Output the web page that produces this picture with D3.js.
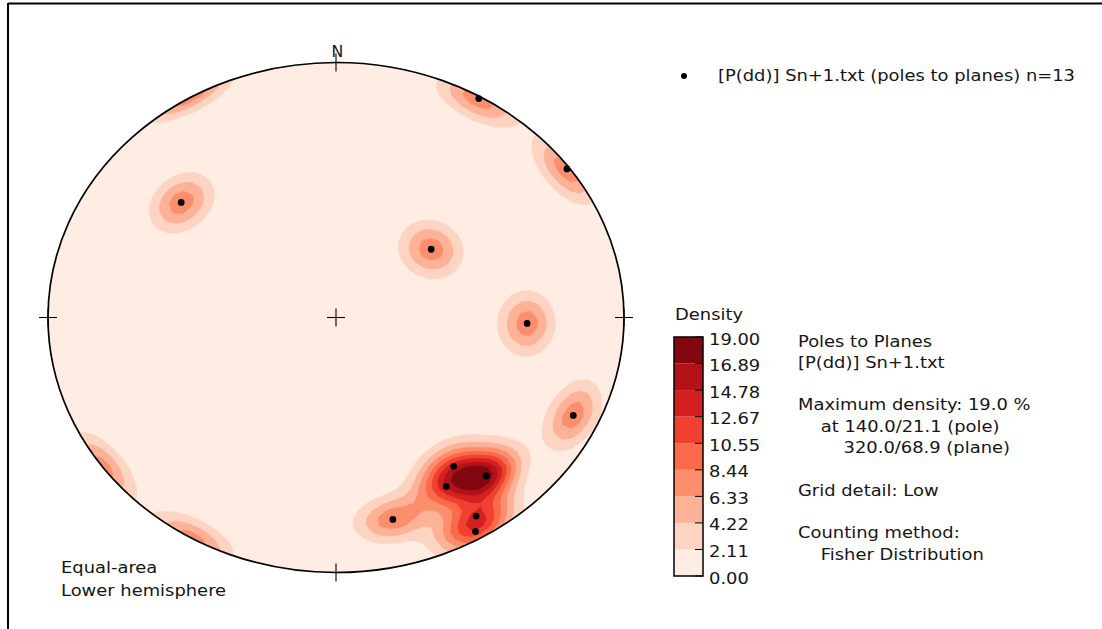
<!DOCTYPE html>
<html>
<head>
<meta charset="utf-8">
<script src="https://cdn.jsdelivr.net/npm/d3@7"></script>
<style>
  body { margin: 0; background: #fff; }
  svg { display: block; }
  text { font-family: "DejaVu Sans", sans-serif; fill: #151515; white-space: pre; }
</style>
</head>
<body>
<svg id="chart" width="1102" height="629"></svg>
<script>
// Sn+1 planes as dip direction / dip (degrees); poles are plotted
const dipDirections = [210, 234, 130, 231, 272, 295, 325, 320, 320, 330, 346, 328, 330];
const dips          = [ 89,  89, 59.5, 35,  56,  80, 60.5, 70,  70, 65.5, 70.5, 81, 86.5];

// contour levels of the density (%)
const densityLevels = [0.00, 2.11, 4.22, 6.33, 8.44, 10.55, 12.67, 14.78, 16.89, 19.00];
const levelLabels   = ["0.00", "2.11", "4.22", "6.33", "8.44", "10.55", "12.67", "14.78", "16.89", "19.00"];

// sequential reds ramp
const redsStops = ["#fff5f0", "#fee0d2", "#fcbba1", "#fc9272", "#fb6a4a", "#ef3b2c", "#cb181d", "#a50f15", "#67000d"];

const fisherK = 100;       // Fisher concentration used for counting
const gridSize = 72;       // nodes per side of the counting grid

const legendLabel = "[P(dd)] Sn+1.txt (poles to planes) n=13";
const infoLines = [
  "Poles to Planes",
  "[P(dd)] Sn+1.txt",
  "",
  "Maximum density: 19.0 %",
  "    at 140.0/21.1 (pole)",
  "        320.0/68.9 (plane)",
  "",
  "Grid detail: Low",
  "",
  "Counting method:",
  "    Fisher Distribution"
];
const netLabels = ["Equal-area", "Lower hemisphere"];

const rad = Math.PI / 180, deg = 180 / Math.PI;
const textScaleX = 1.12;
const fontSize = 16;

const svg = d3.select("#chart");

// net scales: unit circle -> page
const xs = d3.scaleLinear().domain([-1, 1]).range([48, 624]);
const ys = d3.scaleLinear().domain([-1, 1]).range([572.5, 62.5]);

// Lambert equal-area, lower hemisphere
function project(trend, plunge) {
  const r = Math.SQRT2 * Math.sin((90 - plunge) * rad / 2);
  return [r * Math.sin(trend * rad), r * Math.cos(trend * rad)];
}
function unproject(x, y) {
  let r = Math.hypot(x, y);
  if (r > 1) { x /= r; y /= r; r = 1; }
  const colat = 2 * Math.asin(r / Math.SQRT2);
  return [Math.atan2(x, y) * deg, 90 - colat * deg];
}
function toVec(trend, plunge) {
  const t = trend * rad, p = plunge * rad;
  return [Math.cos(p) * Math.sin(t), Math.cos(p) * Math.cos(t), -Math.sin(p)];
}

const poles = dipDirections.map((dd, i) => ({ trend: (dd + 180) % 360, plunge: 90 - dips[i] }));
const poleVecs = poles.map(p => toVec(p.trend, p.plunge));

// Fisher density on a grid over the projection plane
const L = 1.03;
const step = 2 * L / gridSize;
const values = new Float64Array(gridSize * gridSize);
for (let j = 0; j < gridSize; j++) {
  for (let i = 0; i < gridSize; i++) {
    const x = -L + (i + 0.5) * step;
    const y = L - (j + 0.5) * step;
    const [t, p] = unproject(x, y);
    const v = toVec(t, p);
    let s = 0;
    for (const q of poleVecs) {
      const c = Math.abs(v[0] * q[0] + v[1] * q[1] + v[2] * q[2]);
      s += Math.exp(fisherK * (c - 1));
    }
    values[j * gridSize + i] = 100 * s / poles.length;
  }
}

const reds = d3.scaleLinear()
  .domain(d3.range(redsStops.length).map(i => i / (redsStops.length - 1)))
  .range(redsStops)
  .interpolate(d3.interpolateRgb);
const vmax = densityLevels[densityLevels.length - 1];
const bandColors = densityLevels.slice(0, -1).map((lv, i) => reds((lv + densityLevels[i + 1]) / 2 / vmax));

const contours = d3.contours()
  .size([gridSize, gridSize])
  .thresholds(densityLevels.slice(0, -1))(Array.from(values));

const gridToPage = d3.geoTransform({
  point(gx, gy) {
    this.stream.point(xs(-L + gx * step), ys(L - gy * step));
  }
});
const contourPath = d3.geoPath(gridToPage);

// clip to the primitive circle
svg.append("defs").append("clipPath").attr("id", "net-clip")
  .append("ellipse")
  .attr("cx", xs(0)).attr("cy", ys(0))
  .attr("rx", xs(1) - xs(0)).attr("ry", ys(-1) - ys(0));

svg.append("g").attr("clip-path", "url(#net-clip)")
  .selectAll("path").data(contours).join("path")
  .attr("d", contourPath)
  .attr("fill", (d, i) => bandColors[i])
  .attr("stroke", (d, i) => bandColors[i])
  .attr("stroke-width", 0.5);

// primitive circle
svg.append("ellipse")
  .attr("cx", xs(0)).attr("cy", ys(0))
  .attr("rx", xs(1) - xs(0)).attr("ry", ys(-1) - ys(0))
  .attr("fill", "none").attr("stroke", "#000").attr("stroke-width", 1.7);

// cardinal and centre crosses
const crossAt = [[0, 0], [0, 1], [1, 0], [0, -1], [-1, 0]];
const half = 9;
const crosses = svg.append("g").attr("stroke", "#000").attr("stroke-width", 1.1);
crossAt.forEach(([x, y]) => {
  crosses.append("line").attr("x1", xs(x) - half).attr("x2", xs(x) + half).attr("y1", ys(y)).attr("y2", ys(y));
  crosses.append("line").attr("x1", xs(x)).attr("x2", xs(x)).attr("y1", ys(y) - half).attr("y2", ys(y) + half);
});

function scaledText(parent, x, y, str, size, sx) {
  return parent.append("text")
    .attr("transform", `translate(${x},${y}) scale(${sx || textScaleX},1)`)
    .attr("font-size", size)
    .text(str);
}

// North label
scaledText(svg, xs(0) + 1.5, ys(1) - 5.5, "N", 15, 1.05).attr("text-anchor", "middle");

// poles
svg.append("g").selectAll("circle").data(poles).join("circle")
  .attr("cx", d => xs(project(d.trend, d.plunge)[0]))
  .attr("cy", d => ys(project(d.trend, d.plunge)[1]))
  .attr("r", 3.4)
  .attr("fill", "#000");

// legend
svg.append("circle").attr("cx", 684).attr("cy", 76).attr("r", 3).attr("fill", "#000");
scaledText(svg, 718, 81, legendLabel, fontSize);

// colour bar
const cbY = d3.scaleLinear().domain([0, vmax]).range([576, 337]);
const cbX = 674, cbW = 29;
const cb = svg.append("g");
cb.selectAll("rect").data(bandColors).join("rect")
  .attr("x", cbX).attr("width", cbW)
  .attr("y", (d, i) => cbY(densityLevels[i + 1]))
  .attr("height", (d, i) => cbY(densityLevels[i]) - cbY(densityLevels[i + 1]))
  .attr("fill", d => d);
cb.append("rect").attr("x", cbX).attr("y", cbY(vmax)).attr("width", cbW)
  .attr("height", cbY(0) - cbY(vmax)).attr("fill", "none").attr("stroke", "#000").attr("stroke-width", 1.5);
cb.selectAll("line.tick").data(densityLevels).join("line").attr("class", "tick")
  .attr("x1", cbX + cbW - 8).attr("x2", cbX + cbW)
  .attr("y1", d => cbY(d)).attr("y2", d => cbY(d))
  .attr("stroke", "#000").attr("stroke-width", 1);
densityLevels.forEach((d, i) => scaledText(cb, 709, cbY(d) + 7.5, levelLabels[i], fontSize));
scaledText(cb, 675, 320, "Density", fontSize);

// info block
const info = svg.append("g");
infoLines.forEach((s, i) => { if (s) scaledText(info, 798, 346.5 + i * 21.33, s, fontSize); });

// projection note
netLabels.forEach((s, i) => scaledText(svg, 61, 573 + i * 22.5, s, fontSize));

// frame
svg.append("line").attr("x1", 8).attr("x2", 1102).attr("y1", 3.5).attr("y2", 3.5).attr("stroke", "#000").attr("stroke-width", 2);
svg.append("line").attr("x1", 8).attr("x2", 8).attr("y1", 3).attr("y2", 629).attr("stroke", "#000").attr("stroke-width", 2);
</script>
</body>
</html>
